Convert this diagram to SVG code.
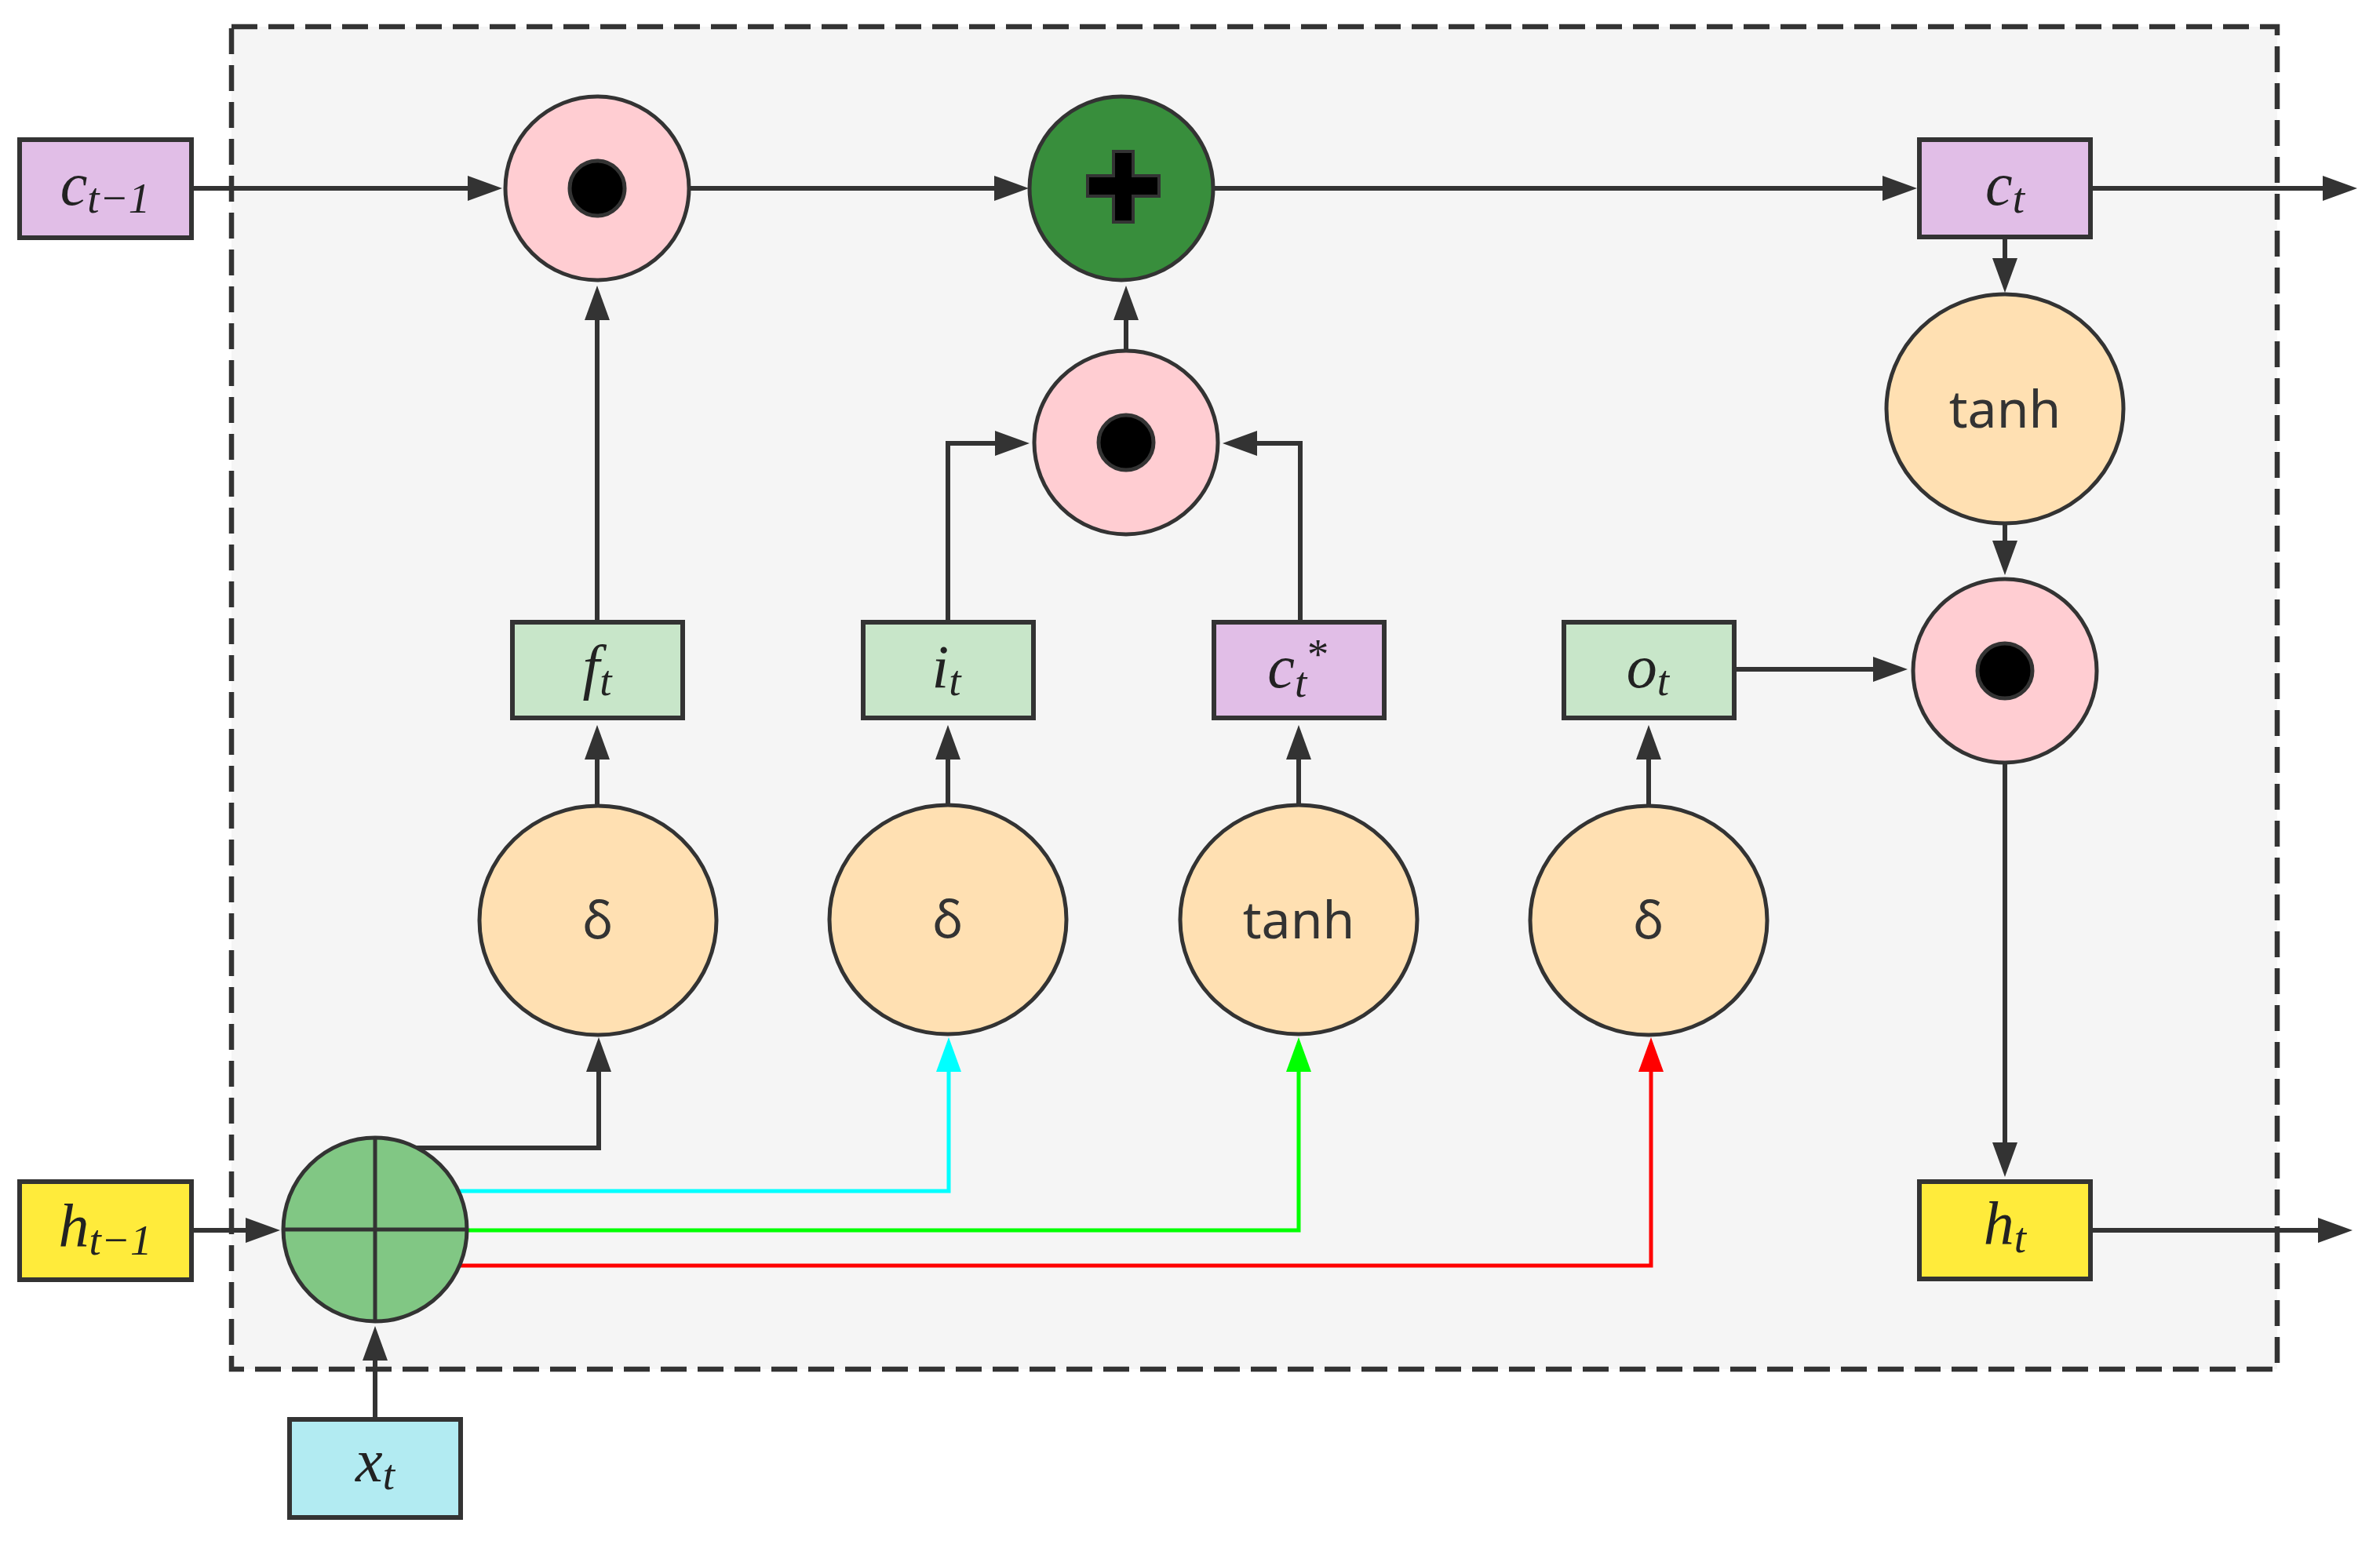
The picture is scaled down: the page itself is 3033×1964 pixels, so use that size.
<svg xmlns="http://www.w3.org/2000/svg" width="3033" height="1964" viewBox="0 0 3033 1964">
<style>
.box{stroke:#333333;stroke-width:6}
.circ{stroke:#333333;stroke-width:5}
.conn{fill:none;stroke:#333333;stroke-width:6}
.math{font-family:"Liberation Serif","DejaVu Serif",serif;font-style:italic;font-size:78px;fill:#222222}
.sub{font-size:55px}
.fn{font-family:"Noto Sans","Open Sans","DejaVu Sans",sans-serif;font-size:66px;fill:#333333}
.dot{fill:#000000;stroke:#333333;stroke-width:5}
</style>
<defs>
<marker id="arr" markerUnits="userSpaceOnUse" markerWidth="44" markerHeight="32" refX="0" refY="16" orient="auto" overflow="visible"><path d="M0,0 L44,16 L0,32 Z" fill="#333333"/></marker>
<marker id="arrC" markerUnits="userSpaceOnUse" markerWidth="44" markerHeight="32" refX="0" refY="16" orient="auto" overflow="visible"><path d="M0,0 L44,16 L0,32 Z" fill="#00FFFF"/></marker>
<marker id="arrG" markerUnits="userSpaceOnUse" markerWidth="44" markerHeight="32" refX="0" refY="16" orient="auto" overflow="visible"><path d="M0,0 L44,16 L0,32 Z" fill="#00FF00"/></marker>
<marker id="arrR" markerUnits="userSpaceOnUse" markerWidth="44" markerHeight="32" refX="0" refY="16" orient="auto" overflow="visible"><path d="M0,0 L44,16 L0,32 Z" fill="#FF0000"/></marker>
</defs>
<rect width="3033" height="1964" fill="#FFFFFF"/>
<g id="cell">
<rect x="295" y="34" width="2607" height="1711" fill="#F5F5F5" stroke="#333333" stroke-width="6.5" stroke-dasharray="33 14"/>
</g>
<g id="connectors">
<path class="conn" d="M247,240 H596" marker-end="url(#arr)"/>
<path class="conn" d="M879,240 H1267" marker-end="url(#arr)"/>
<path class="conn" d="M1546,240 H2399" marker-end="url(#arr)"/>
<path class="conn" d="M2667,240 H2960" marker-end="url(#arr)"/>
<path class="conn" d="M2555,305 V329" marker-end="url(#arr)"/>
<path class="conn" d="M2555,667 V689" marker-end="url(#arr)"/>
<path class="conn" d="M2555,973 V1456" marker-end="url(#arr)"/>
<path class="conn" d="M2667,1568 H2954" marker-end="url(#arr)"/>
<path class="conn" d="M2212,853 H2387" marker-end="url(#arr)"/>
<path class="conn" d="M761,790 V408" marker-end="url(#arr)"/>
<path class="conn" d="M761,1026 V968" marker-end="url(#arr)"/>
<path class="conn" d="M1208,1026 V968" marker-end="url(#arr)"/>
<path class="conn" d="M1655,1026 V968" marker-end="url(#arr)"/>
<path class="conn" d="M2101,1026 V968" marker-end="url(#arr)"/>
<path class="conn" d="M1208,790 V565 H1268" marker-end="url(#arr)"/>
<path class="conn" d="M1657,790 V565 H1602" marker-end="url(#arr)"/>
<path class="conn" d="M1435,446 V408" marker-end="url(#arr)"/>
<path class="conn" d="M531,1463 H763 V1366" marker-end="url(#arr)"/>
<path fill="none" stroke="#00FFFF" stroke-width="5" d="M584,1518 H1209 V1366" marker-end="url(#arrC)"/>
<path fill="none" stroke="#00FF00" stroke-width="5" d="M595,1568 H1655 V1366" marker-end="url(#arrG)"/>
<path fill="none" stroke="#FF0000" stroke-width="5" d="M585,1613 H2104 V1366" marker-end="url(#arrR)"/>
<path class="conn" d="M247,1568 H313" marker-end="url(#arr)"/>
<path class="conn" d="M478,1807 V1734" marker-end="url(#arr)"/>
</g>
<g id="c_prev">
<rect class="box" x="25" y="178" width="219" height="125" fill="#E1BEE7"/>
<text class="math" x="134" y="261" text-anchor="middle">c<tspan class="sub" dy="10">t−1</tspan></text>
</g>
<g id="h_prev">
<rect class="box" x="25" y="1506" width="219" height="125" fill="#FFEB3B"/>
<text class="math" x="134" y="1589" text-anchor="middle">h<tspan class="sub" dy="10">t−1</tspan></text>
</g>
<g id="x_t">
<rect class="box" x="369" y="1809" width="218" height="125" fill="#B2EBF2"/>
<text class="math" x="478" y="1888" text-anchor="middle">x<tspan class="sub" dy="10">t</tspan></text>
</g>
<g id="c_t">
<rect class="box" x="2446" y="178" width="218" height="124" fill="#E1BEE7"/>
<text class="math" x="2555" y="261" text-anchor="middle">c<tspan class="sub" dy="10">t</tspan></text>
</g>
<g id="h_t">
<rect class="box" x="2446" y="1506" width="218" height="124" fill="#FFEB3B"/>
<text class="math" x="2555" y="1586" text-anchor="middle">h<tspan class="sub" dy="10">t</tspan></text>
</g>
<g id="f_t">
<rect class="box" x="653" y="793" width="217" height="122" fill="#C8E6C9"/>
<text class="math" x="761" y="876" text-anchor="middle">f<tspan class="sub" dy="10">t</tspan></text>
</g>
<g id="i_t">
<rect class="box" x="1100" y="793" width="217" height="122" fill="#C8E6C9"/>
<text class="math" x="1206" y="876" text-anchor="middle">i<tspan class="sub" dy="10">t</tspan></text>
</g>
<g id="c_star">
<rect class="box" x="1547" y="793" width="217" height="122" fill="#E1BEE7"/>
<text class="math" x="1653" y="876" text-anchor="middle">c<tspan class="sub" dy="12">t</tspan><tspan class="sub" dx="-2" dy="-36">*</tspan></text>
</g>
<g id="o_t">
<rect class="box" x="1993" y="793" width="217" height="122" fill="#C8E6C9"/>
<text class="math" x="2100" y="876" text-anchor="middle">o<tspan class="sub" dy="10">t</tspan></text>
</g>
<g id="sig_f">
<ellipse class="circ" cx="762" cy="1173" rx="151" ry="146" fill="#FFE0B2"/>
<text class="fn" x="762" y="1196" text-anchor="middle">δ</text>
</g>
<g id="sig_i">
<ellipse class="circ" cx="1208" cy="1172" rx="151" ry="146" fill="#FFE0B2"/>
<text class="fn" x="1208" y="1195" text-anchor="middle">δ</text>
</g>
<g id="tanh_c">
<ellipse class="circ" cx="1655" cy="1172" rx="151" ry="146" fill="#FFE0B2"/>
<text class="fn" x="1655" y="1196" text-anchor="middle">tanh</text>
</g>
<g id="sig_o">
<ellipse class="circ" cx="2101" cy="1173" rx="151" ry="146" fill="#FFE0B2"/>
<text class="fn" x="2101" y="1196" text-anchor="middle">δ</text>
</g>
<g id="tanh_out">
<ellipse class="circ" cx="2555" cy="521" rx="151" ry="146" fill="#FFE0B2"/>
<text class="fn" x="2555" y="545" text-anchor="middle">tanh</text>
</g>
<g id="mul_f">
<circle class="circ" cx="761" cy="240" r="117" fill="#FFCDD2"/>
<circle class="dot" cx="761" cy="240" r="35"/>
</g>
<g id="mul_i">
<circle class="circ" cx="1435" cy="564" r="117" fill="#FFCDD2"/>
<circle class="dot" cx="1435" cy="564" r="35"/>
</g>
<g id="mul_o">
<circle class="circ" cx="2555" cy="855" r="117" fill="#FFCDD2"/>
<circle class="dot" cx="2555" cy="855" r="35"/>
</g>
<g id="add">
<circle class="circ" cx="1429" cy="240" r="117" fill="#388E3C"/>
<path d="M1419,193 H1444 V224 H1477 V250 H1444 V283 H1419 V250 H1386 V224 H1419 Z" fill="#000000" stroke="#333333" stroke-width="4"/>
</g>
<g id="concat">
<circle class="circ" cx="478" cy="1567" r="117" fill="#81C784"/>
<path d="M478,1450 V1684 M361,1567 H595" fill="none" stroke="#333333" stroke-width="5"/>
</g>
</svg>
